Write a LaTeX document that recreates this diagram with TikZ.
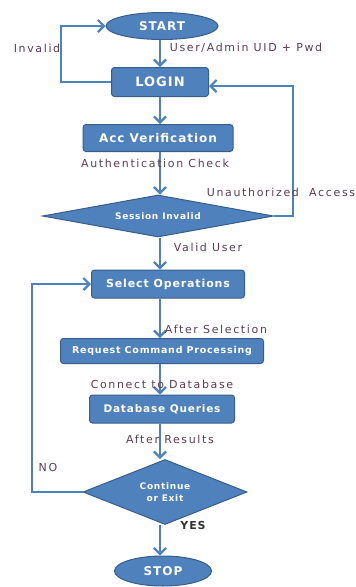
\documentclass[tikz,border=0pt]{standalone}
\usepackage{fontspec}
\setmainfont{DejaVu Sans}
\newfontfamily\spacedfont[LetterSpace=15]{DejaVu Sans}
\newfontfamily\boxfont[LetterSpace=8]{DejaVu Sans}
\usetikzlibrary{shapes.geometric, arrows.meta}
\definecolor{boxblue}{HTML}{4F81BD}
\definecolor{boxedge}{HTML}{385D8A}
\definecolor{notegray}{HTML}{5A3E52}
\tikzstyle{terminal} = [ellipse, fill=boxblue, draw=boxedge, line width=1pt, text=white, inner sep=0pt, font=\boxfont\bfseries\fontsize{12}{12}\selectfont]
\tikzstyle{process} = [rectangle, rounded corners=3pt, fill=boxblue, draw=boxedge, line width=1pt, text=white, inner sep=0pt, font=\boxfont\bfseries\fontsize{12}{12}\selectfont]
\tikzstyle{decision} = [diamond, fill=boxblue, draw=boxedge, line width=1pt, text=white, inner sep=0pt, align=center, font=\boxfont\bfseries\fontsize{9}{9}\selectfont]
\tikzstyle{note} = [text=notegray, inner sep=0pt, font=\spacedfont\fontsize{11}{11}\selectfont]
\tikzstyle{arrow} = [boxblue, line width=2.2pt, -{Straight Barb[length=6pt,width=12pt]}]

\begin{document}
\begin{tikzpicture}[x=1pt, y=-1pt]
\useasboundingbox (0,0) rectangle (356,587);

\coordinate (spine) at (160,0);

\node (start) [terminal, minimum width=112, minimum height=27] at (162,26) {START};
\node (login) [process, minimum width=97, minimum height=29, font=\boxfont\bfseries\fontsize{13}{13}\selectfont] at (160,82) {LOGIN};
\node (accver) [process, minimum width=150, minimum height=27] at (158,138) {Acc Verification};
\node (session) [decision, shape aspect=5.5, minimum width=231, minimum height=42] at (158,216) {Session Invalid};
\node (selectop) [process, minimum width=153, minimum height=28, font=\boxfont\bfseries\fontsize{11}{11}\selectfont] at (168,284) {Select Operations};
\node (reqcmd) [process, minimum width=203, minimum height=25, font=\boxfont\bfseries\fontsize{9.5}{9.5}\selectfont] at (162,351) {Request Command Processing};
\node (dbq) [process, minimum width=145, minimum height=28, font=\boxfont\bfseries\fontsize{10.5}{10.5}\selectfont] at (162,409) {Database Queries};
\node (contexit) [decision, shape aspect=2.5, minimum width=164, minimum height=65, font=\boxfont\bfseries\fontsize{9}{12}\selectfont] at (165,492) {Continue\\or Exit};
\node (stop) [terminal, minimum width=97, minimum height=30] at (163,571) {STOP};

\coordinate (invl) at (61,26);
\coordinate (unauthr) at (293,216);
\coordinate (nol) at (32,492);

% main flow
\draw [arrow] (start.south -| spine) -- (login.north -| spine);
\draw [arrow] (login.south -| spine) -- (accver.north -| spine);
\draw [arrow] (accver.south -| spine) -- (session.north -| spine);
\draw [arrow] (session.south -| spine) -- (selectop.north -| spine);
\draw [arrow] (selectop.south -| spine) -- (reqcmd.north -| spine);
\draw [arrow] (reqcmd.south -| spine) -- (dbq.north -| spine);
\draw [arrow] (dbq.south -| spine) -- (contexit.north -| spine);
\draw [arrow] (contexit.south -| spine) -- (stop.north -| spine);

% loops back
\draw [arrow] (login.west) -| (invl) -- (start.west);
\draw [arrow] (session.east) -- (unauthr) |- ([yshift=-4]login.east);
\draw [arrow] (contexit.west) -- (nol) |- (selectop.west);

\node (invalidlbl) [note] at (37,48) {Invalid};
\node (uidlbl) [note] at (246,48) {User/Admin UID + Pwd};
\node (authlbl) [note] at (155,163) {Authentication Check};
\node (unauthlbl) [note] at (281,192) {Unauthorized\ \ Access};
\node (validlbl) [note] at (208,247) {Valid User};
\node (afterseclbl) [note] at (216,329) {After Selection};
\node (connlbl) [note] at (162,384) {Connect to Database};
\node (afterreslbl) [note] at (170,439) {After Results};
\node (nolbl) [note] at (48,467) {NO};
\node (yeslbl) [note, text=black!80, font=\boxfont\bfseries\fontsize{11}{11}\selectfont] at (193,525) {YES};

\end{tikzpicture}
\end{document}
